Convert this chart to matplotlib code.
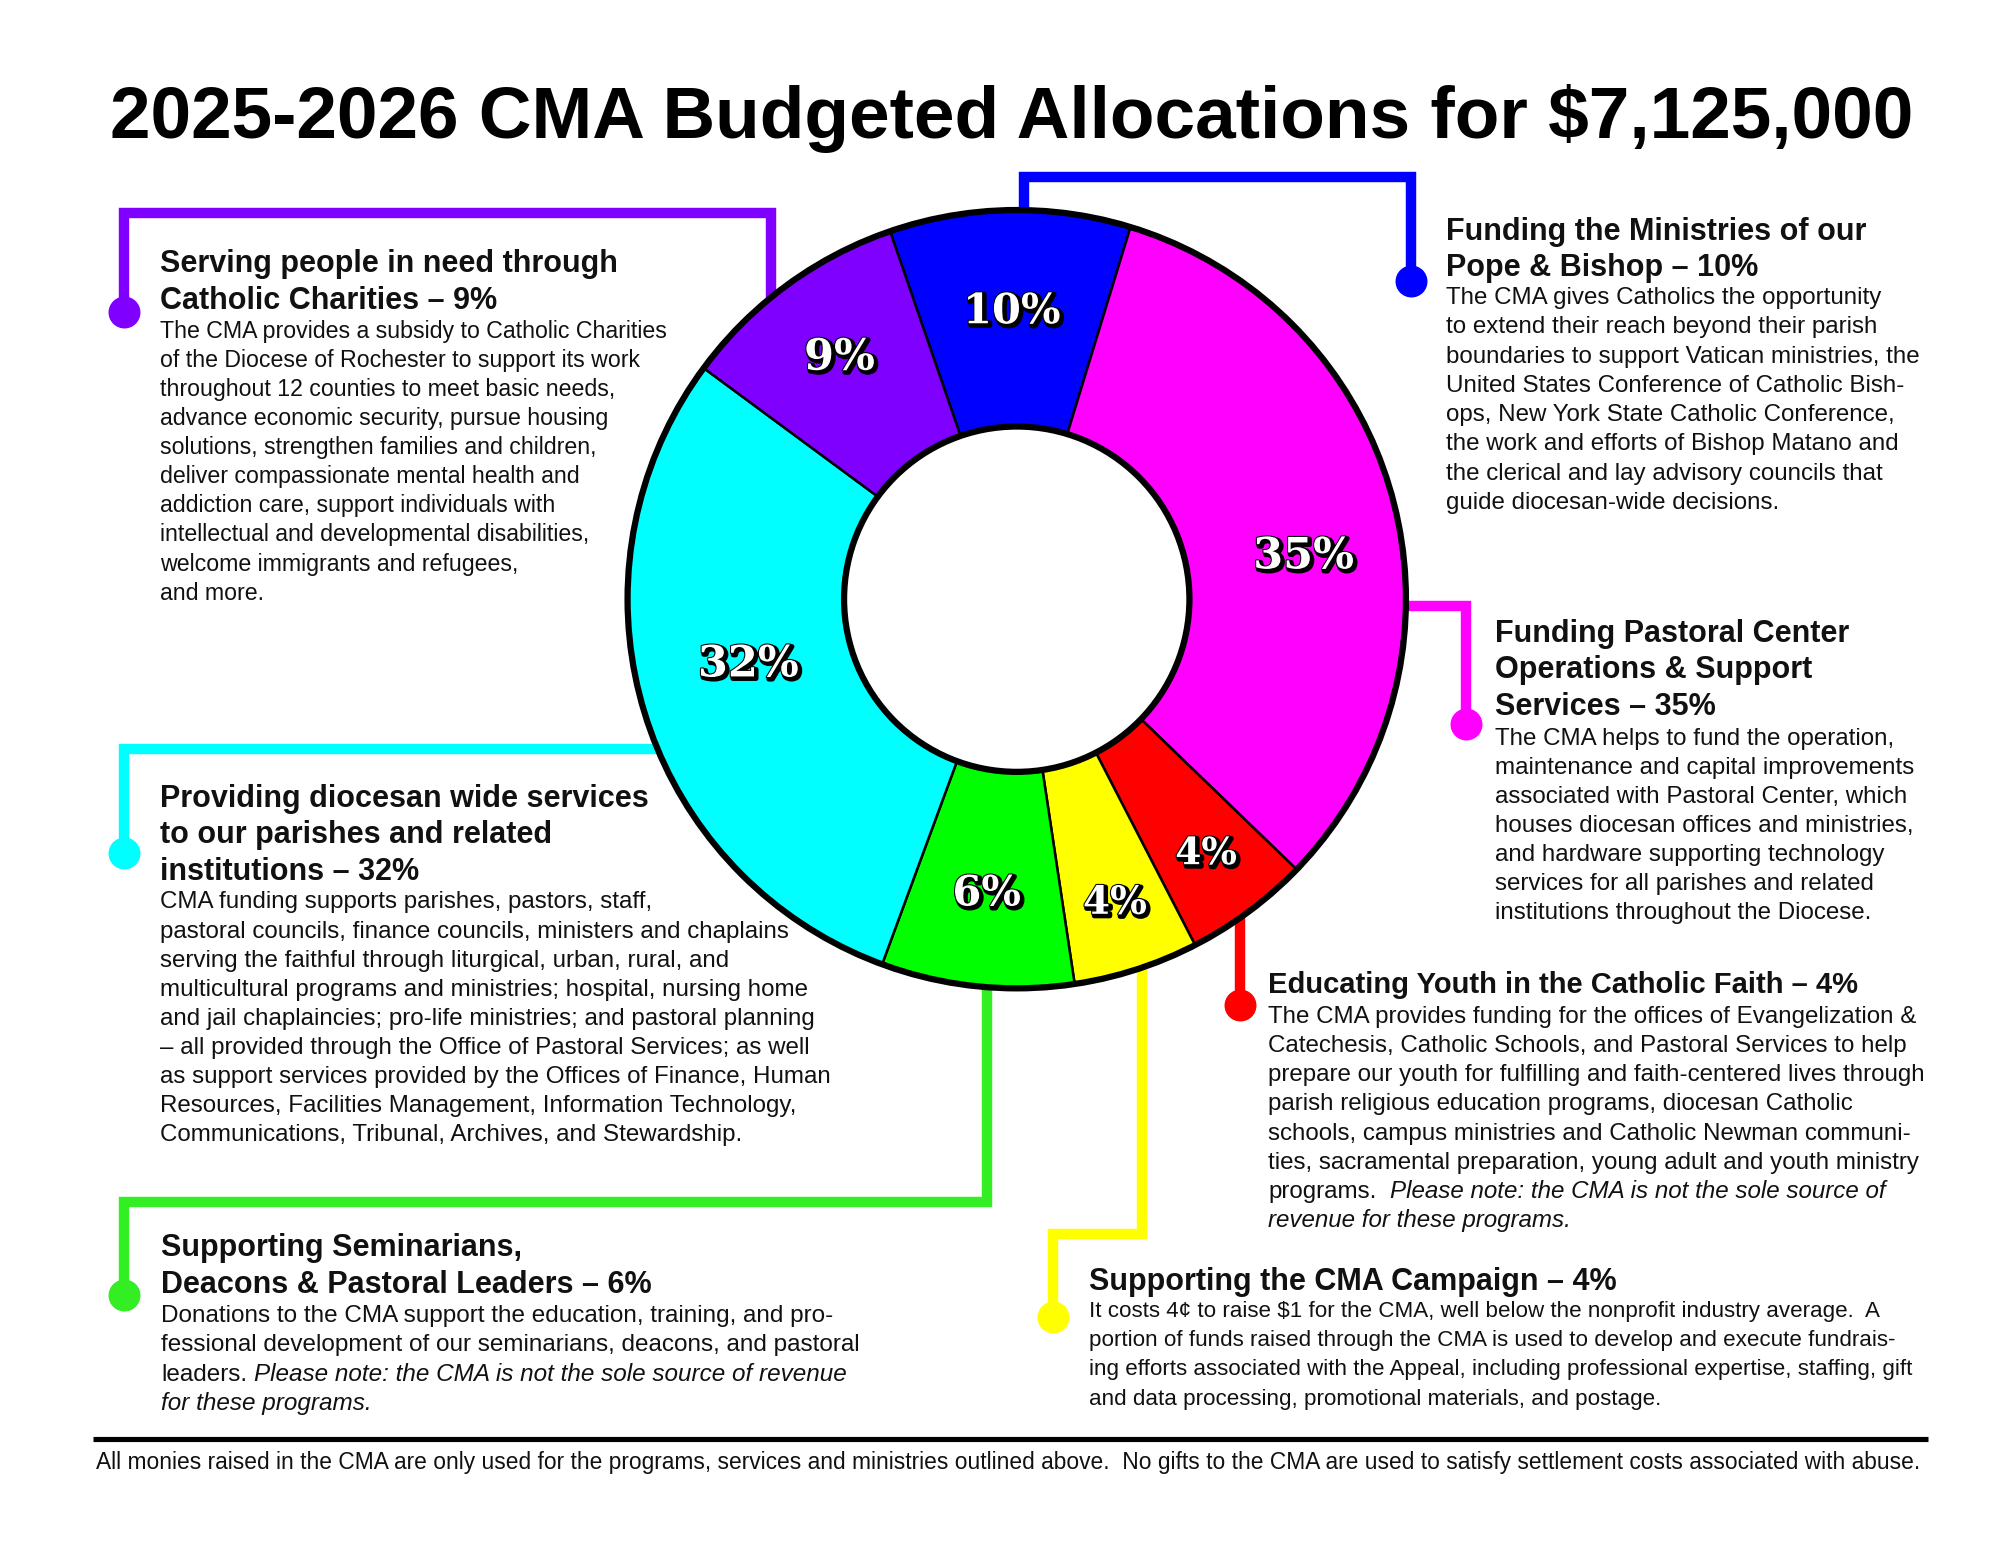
import matplotlib
matplotlib.use("Agg")
import numpy as np
import matplotlib.pyplot as plt
import matplotlib.patheffects as pe
from matplotlib.patches import Circle

plt.rcParams['font.family'] = ['Liberation Sans', 'DejaVu Sans']

# layout grid = the reference picture at 1552 x 1199
W, H = 1552, 1199
FIG_W, FIG_H = 2000, 1545

title = "2025-2026 CMA Budgeted Allocations for $7,125,000"
footer = ("All monies raised in the CMA are only used for the programs, services and ministries "
          "outlined above.  No gifts to the CMA are used to satisfy settlement costs associated with abuse.")

# slices, clockwise from the top (blue)
slice_names = ["Pope & Bishop", "Pastoral Center", "Educating Youth", "CMA Campaign",
               "Seminarians & Leaders", "Diocesan services", "Catholic Charities"]
slice_shares = [10.0, 32.5, 5.2, 5.2, 8.0, 29.5, 9.6]
slice_labels = ["10%", "35%", "4%", "4%", "6%", "32%", "9%"]
slice_colors = ["#0000FF", "#FF00FF", "#FF0000", "#FFFF00", "#00FF00", "#00FFFF", "#8000FF"]

purple_head = ["Serving people in need through", "Catholic Charities – 9%"]
purple_body = [
    "The CMA provides a subsidy to Catholic Charities",
    "of the Diocese of Rochester to support its work",
    "throughout 12 counties to meet basic needs,",
    "advance economic security, pursue housing",
    "solutions, strengthen families and children,",
    "deliver compassionate mental health and",
    "addiction care, support individuals with",
    "intellectual and developmental disabilities,",
    "welcome immigrants and refugees,",
    "and more.",
]

blue_head = ["Funding the Ministries of our", "Pope & Bishop – 10%"]
blue_body = [
    "The CMA gives Catholics the opportunity",
    "to extend their reach beyond their parish",
    "boundaries to support Vatican ministries, the",
    "United States Conference of Catholic Bish-",
    "ops, New York State Catholic Conference,",
    "the work and efforts of Bishop Matano and",
    "the clerical and lay advisory councils that",
    "guide diocesan-wide decisions.",
]

magenta_head = ["Funding Pastoral Center", "Operations & Support", "Services – 35%"]
magenta_body = [
    "The CMA helps to fund the operation,",
    "maintenance and capital improvements",
    "associated with Pastoral Center, which",
    "houses diocesan offices and ministries,",
    "and hardware supporting technology",
    "services for all parishes and related",
    "institutions throughout the Diocese.",
]

red_head = ["Educating Youth in the Catholic Faith – 4%"]
red_body = [
    "The CMA provides funding for the offices of Evangelization &",
    "Catechesis, Catholic Schools, and Pastoral Services to help",
    "prepare our youth for fulfilling and faith-centered lives through",
    "parish religious education programs, diocesan Catholic",
    "schools, campus ministries and Catholic Newman communi-",
    "ties, sacramental preparation, young adult and youth ministry",
    [("programs.  ", "normal"), ("Please note: the CMA is not the sole source of", "italic")],
    [("revenue for these programs.", "italic")],
]

yellow_head = ["Supporting the CMA Campaign – 4%"]
yellow_body = [
    "It costs 4¢ to raise $1 for the CMA, well below the nonprofit industry average.  A",
    "portion of funds raised through the CMA is used to develop and execute fundrais-",
    "ing efforts associated with the Appeal, including professional expertise, staffing, gift",
    "and data processing, promotional materials, and postage.",
]

green_head = ["Supporting Seminarians,", "Deacons & Pastoral Leaders – 6%"]
green_body = [
    "Donations to the CMA support the education, training, and pro-",
    "fessional development of our seminarians, deacons, and pastoral",
    [("leaders. ", "normal"), ("Please note: the CMA is not the sole source of revenue", "italic")],
    [("for these programs.", "italic")],
]

cyan_head = ["Providing diocesan wide services", "to our parishes and related", "institutions – 32%"]
cyan_body = [
    "CMA funding supports parishes, pastors, staff,",
    "pastoral councils, finance councils, ministers and chaplains",
    "serving the faithful through liturgical, urban, rural, and",
    "multicultural programs and ministries; hospital, nursing home",
    "and jail chaplaincies; pro-life ministries; and pastoral planning",
    "– all provided through the Office of Pastoral Services; as well",
    "as support services provided by the Offices of Finance, Human",
    "Resources, Facilities Management, Information Technology,",
    "Communications, Tribunal, Archives, and Stewardship.",
]

fig = plt.figure(figsize=(FIG_W / 100, FIG_H / 100), dpi=100)
ax = fig.add_axes([0, 0, 1, 1])
renderer = fig.canvas.get_renderer()

# donut
cx, cy = 789, H - 465
r_out, r_in = 302, 134
wedges, _ = ax.pie(slice_shares, colors=slice_colors, startangle=109, counterclock=False,
                   center=(cx, cy), radius=r_out, frame=True,
                   wedgeprops=dict(width=r_out - r_in, edgecolor="black", linewidth=1.8))
ax.add_patch(Circle((cx, cy), r_out, fill=False, ec="black", lw=4.5, zorder=3))
ax.add_patch(Circle((cx, cy), r_in, fill=False, ec="black", lw=4.5, zorder=3))

label_r = [0.74, 0.745, 0.815, 0.82, 0.76, 0.71, 0.77]
label_shift = [0, -6, 0, 0, 0, -3, 0]
label_size = [30, 31, 27, 28, 30, 31, 31]
shadow = [pe.Stroke(linewidth=3.5, foreground="black", offset=(1.5, -1.5)),
          pe.Stroke(linewidth=1.5, foreground="black"), pe.Normal()]
for w, lab, rf, sh, fs in zip(wedges, slice_labels, label_r, label_shift, label_size):
    mid = np.deg2rad((w.theta1 + w.theta2) / 2 + sh)
    ax.text(cx + r_out * rf * np.cos(mid), cy + r_out * rf * np.sin(mid), lab,
            ha="center", va="center", fontsize=fs, family="DejaVu Serif",
            weight="bold", color="white", path_effects=shadow, zorder=4)


def connector(pts, color):
    xs = [p[0] for p in pts]
    ys = [H - p[1] for p in pts]
    ax.plot(xs, ys, color=color, lw=7.5, solid_joinstyle="miter",
            solid_capstyle="butt", zorder=0.5)
    ax.plot(xs[-1], ys[-1], "o", ms=22, color=color, zorder=0.6)


connector([(598, 260), (598, 165), (96, 165), (96, 242)], "#8000FF")
connector([(795, 200), (795, 137), (1095, 137), (1095, 218)], "#0000FF")
connector([(1060, 470), (1138, 470), (1138, 562)], "#FF00FF")
connector([(962, 700), (962, 780)], "#FF0000")
connector([(886, 740), (886, 958), (817, 958), (817, 1022)], "#FFFF00")
connector([(766, 740), (766, 933), (96, 933), (96, 1005)], "#33EE22")
connector([(540, 581), (96, 581), (96, 662)], "#00FFFF")


def text_width(t):
    bb = t.get_window_extent(renderer)
    return bb.width * W / FIG_W


def draw_line(x, y, line, size, weight="normal"):
    if isinstance(line, str):
        line = [(line, "normal")]
    for seg, style in line:
        body = seg.rstrip()
        t = ax.text(x, y, body, fontsize=size, fontstyle=style, weight=weight,
                    va="baseline", ha="left", color="#111111")
        spaces = len(seg) - len(body)
        x += text_width(t) + spaces * 0.278 * size * (100 / 72) * W / FIG_W


def block(x, y_head, heads, y_body, body, hsize=22, bsize=17.4, hstep=28.5, bstep=22.6):
    for i, line in enumerate(heads):
        draw_line(x, H - (y_head + i * hstep + 8), line, hsize, weight="bold")
    for i, line in enumerate(body):
        draw_line(x, H - (y_body + i * bstep + 6), line, bsize)


block(124, 203, purple_head, 256, purple_body, bsize=16.7)
block(1122, 178, blue_head, 230, blue_body, bstep=22.7)
block(1160, 490, magenta_head, 572, magenta_body, bstep=22.5)
block(984, 763, red_head, 788, red_body, hsize=21)
block(845, 993, yellow_head, 1016, yellow_body, bsize=16.1, bstep=22.7)
block(125, 967, green_head, 1020, green_body, bsize=17.5, bstep=22.7)
block(124, 618, cyan_head, 699, cyan_body)


def fit_text(x, y, s, target, size, **kw):
    t = ax.text(x, y, s, fontsize=size, ha="center", va="center", **kw)
    t.set_fontsize(size * target / text_width(t))
    return t


fit_text(785, H - 92, title, 1400, 60, weight="bold",
         family=["Liberation Sans Narrow", "Liberation Sans"], color="black")
ax.plot([72, 1496], [H - 1117, H - 1117], color="black", lw=3.7, solid_capstyle="butt")
fit_text(782, H - 1135, footer, 1421, 14,
         family=["Liberation Sans Narrow", "Liberation Sans"], color="#111111")

ax.set_xlim(0, W)
ax.set_ylim(0, H)
ax.set_aspect("auto")
ax.axis("off")
fig.savefig("out.png", dpi=100, facecolor="white")
